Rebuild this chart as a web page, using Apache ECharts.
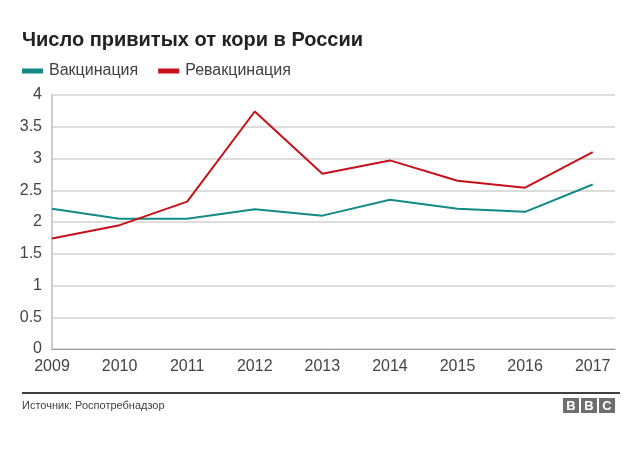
<!DOCTYPE html>
<html>
<head>
<meta charset="utf-8">
<script src="https://cdn.jsdelivr.net/npm/echarts@6/dist/echarts.min.js"></script>
<style>
  html, body { margin: 0; padding: 0; background: #fff; }
  #chart { width: 644px; height: 454px; }
</style>
</head>
<body>
<div id="chart"></div>
<script>
const years = [2009, 2010, 2011, 2012, 2013, 2014, 2015, 2016, 2017]
const vaccination = [2.21, 2.05, 2.05, 2.2, 2.1, 2.35, 2.21, 2.16, 2.59]
const revaccination = [1.74, 1.95, 2.32, 3.74, 2.76, 2.97, 2.65, 2.54, 3.1]
const seriesNames = ['Вакцинация', 'Ревакцинация']

const myChart = echarts.init(document.getElementById('chart'))
const font = 'Liberation Sans, Arial, sans-serif'

const option = {
    backgroundColor: '#fff',
    animation: false,
    textStyle: { fontFamily: font },
    title: {
        text: 'Число привитых от кори в России',
        left: 17,
        top: 25,
        textStyle: { fontSize: 20, fontWeight: 'bold', color: '#222', fontFamily: font }
    },
    legend: {
        left: 17,
        top: 58,
        icon: 'rect',
        itemWidth: 21,
        itemHeight: 5,
        itemGap: 20,
        textStyle: { fontSize: 16, color: '#404040', fontFamily: font, padding: [0, 0, 0, 1] },
        data: seriesNames
    },
    grid: {
        left: 52,
        right: 29,
        top: 95,
        bottom: 105,
        containLabel: false
    },
    xAxis: {
        type: 'value',
        min: 2009,
        max: 2017.33,
        interval: 1,
        axisLine: { lineStyle: { color: '#999', width: 1 } },
        axisTick: { show: false },
        splitLine: { show: false },
        axisLabel: {
            fontSize: 16,
            color: '#444',
            margin: 10,
            showMaxLabel: false,
            formatter: v => (Number.isInteger(v) ? String(v) : '')
        }
    },
    yAxis: {
        type: 'value',
        min: 0,
        max: 4,
        interval: 0.5,
        axisLine: { show: true, lineStyle: { color: '#ccc', width: 2 } },
        axisTick: { show: false },
        axisLabel: { fontSize: 16, color: '#444', margin: 10 },
        splitLine: { lineStyle: { color: '#ddd', width: 2 } }
    },
    series: [
        {
            name: seriesNames[0],
            type: 'line',
            data: years.map((y, i) => [y, vaccination[i]]),
            symbol: 'none',
            color: '#138a86',
            lineStyle: { width: 2 }
        },
        {
            name: seriesNames[1],
            type: 'line',
            data: years.map((y, i) => [y, revaccination[i]]),
            symbol: 'none',
            color: '#c8101a',
            lineStyle: { width: 2 }
        }
    ],
    graphic: [
        {
            type: 'line',
            shape: { x1: 22, y1: 393, x2: 620, y2: 393 },
            style: { stroke: '#000', lineWidth: 1.5 }
        },
        {
            type: 'text',
            left: 22,
            top: 400,
            style: { text: 'Источник: Роспотребнадзор', fontSize: 11, fill: '#404040', fontFamily: font }
        },
        ...['B', 'B', 'C'].map((ch, i) => ({
            type: 'group',
            left: 563 + i * 18,
            top: 398,
            children: [
                { type: 'rect', shape: { x: 0, y: 0, width: 16, height: 15 }, style: { fill: '#6e6e6e' } },
                { type: 'text', x: 8, y: 8, style: { text: ch, fontSize: 13, fontWeight: 'bold', fill: '#fff', align: 'center', verticalAlign: 'middle', fontFamily: font } }
            ]
        }))
    ]
}

option && myChart.setOption(option)
</script>
</body>
</html>
